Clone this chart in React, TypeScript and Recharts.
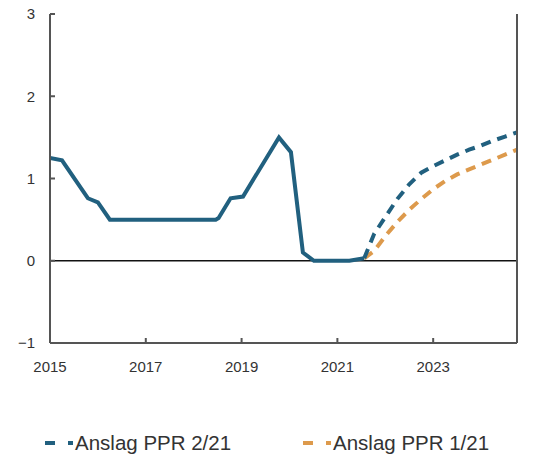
import React from "react";
import {
  LineChart,
  Line,
  XAxis,
  YAxis,
  ReferenceLine,
  Legend,
} from "recharts";

// policy rate, history (time in years)
const histTime = [2015.0, 2015.25, 2015.79, 2016.0, 2016.25, 2018.46, 2018.52, 2018.77, 2019.03, 2019.78, 2020.03, 2020.28, 2020.51, 2021.25, 2021.56];
const histRate = [1.25, 1.22, 0.76, 0.71, 0.5, 0.5, 0.52, 0.76, 0.78, 1.5, 1.32, 0.1, 0.0, 0.0, 0.03];

// forecast PPR 2/21
const ppr2Time = [2021.56, 2021.77, 2022.0, 2022.25, 2022.5, 2022.75, 2023.0, 2023.25, 2023.5, 2023.75, 2024.0, 2024.25, 2024.5, 2024.75];
const ppr2Rate = [0.03, 0.33, 0.53, 0.75, 0.93, 1.07, 1.15, 1.22, 1.29, 1.35, 1.4, 1.46, 1.51, 1.56];

// forecast PPR 1/21
const ppr1Time = [2021.56, 2021.77, 2022.0, 2022.25, 2022.5, 2022.75, 2023.0, 2023.25, 2023.5, 2023.75, 2024.0, 2024.25, 2024.5, 2024.75];
const ppr1Rate = [0.03, 0.12, 0.3, 0.47, 0.62, 0.75, 0.87, 0.97, 1.05, 1.11, 1.17, 1.23, 1.29, 1.35];

const xTicks = [2015, 2017, 2019, 2021, 2023];
const yTicks = [-1, 0, 1, 2, 3];

const BLUE = "#21607f";
const ORANGE = "#dd9a4c";
const FRAME = "#555555";

const hist = histTime.map((t, i) => ({ t, v: histRate[i] }));
const ppr2 = ppr2Time.map((t, i) => ({ t, v: ppr2Rate[i] }));
const ppr1 = ppr1Time.map((t, i) => ({ t, v: ppr1Rate[i] }));

const legendItems = [
  { name: "Anslag PPR 2/21", color: BLUE, left: 45 },
  { name: "Anslag PPR 1/21", color: ORANGE, left: 303 },
];

const renderLegend = () => (
  <div style={{ position: "relative", width: 545, height: 72 }}>
    {legendItems.map((it) => (
      <div
        key={it.name}
        style={{
          position: "absolute",
          left: it.left,
          top: 48,
          display: "flex",
          alignItems: "center",
          fontFamily: "'Liberation Sans', Arial, sans-serif",
          fontSize: 20.5,
          color: "#333",
        }}
      >
        <svg width={30} height={24}>
          <line x1={0} y1={12} x2={28} y2={12} stroke={it.color} strokeWidth={4} strokeDasharray="10 13" />
        </svg>
        <span>{it.name}</span>
      </div>
    ))}
  </div>
);

const tickStyle = { fill: "#333", fontSize: 15, fontFamily: "'Liberation Sans', Arial, sans-serif" };
const fmtY = (v: number) => String(v).replace("-", "\u2212");

export default function App() {
  return (
    <div style={{ position: "absolute", left: 0, top: 0 }}>
      <LineChart width={545} height={455} margin={{ top: 14, right: 0, left: 0, bottom: 0 }}>
        <XAxis
          dataKey="t"
          type="number"
          domain={[2015, 2024.75]}
          ticks={xTicks}
          allowDataOverflow
          height={40}
          tickSize={-5}
          tickMargin={23}
          tick={tickStyle}
          axisLine={{ stroke: FRAME, strokeWidth: 2 }}
          tickLine={{ stroke: FRAME, strokeWidth: 2 }}
        />
        <XAxis
          xAxisId="top"
          orientation="top"
          dataKey="t"
          type="number"
          domain={[2015, 2024.75]}
          height={0}
          tick={false}
          tickLine={false}
          axisLine={{ stroke: FRAME, strokeWidth: 2 }}
        />
        <YAxis
          domain={[-1, 3]}
          ticks={yTicks}
          width={50}
          tickSize={-5}
          tickMargin={20}
          tick={tickStyle}
          tickFormatter={fmtY}
          axisLine={{ stroke: FRAME, strokeWidth: 2 }}
          tickLine={{ stroke: FRAME, strokeWidth: 2 }}
        />
        <YAxis
          yAxisId="right"
          orientation="right"
          domain={[-1, 3]}
          ticks={yTicks}
          width={28}
          tickSize={-5}
          tickMargin={19}
          tick={tickStyle}
          tickFormatter={fmtY}
          axisLine={{ stroke: FRAME, strokeWidth: 2 }}
          tickLine={{ stroke: FRAME, strokeWidth: 2 }}
        />
        <ReferenceLine y={0} stroke="#111" strokeWidth={1.5} />
        <Line data={hist} dataKey="v" stroke={BLUE} strokeWidth={4} dot={false} isAnimationActive={false} legendType="none" />
        <Line data={ppr1} dataKey="v" stroke={ORANGE} strokeWidth={4} strokeDasharray="10 7" dot={false} isAnimationActive={false} />
        <Line data={ppr2} dataKey="v" stroke={BLUE} strokeWidth={4} strokeDasharray="10 7" dot={false} isAnimationActive={false} />
        <Legend verticalAlign="bottom" content={renderLegend} />
      </LineChart>
    </div>
  );
}
